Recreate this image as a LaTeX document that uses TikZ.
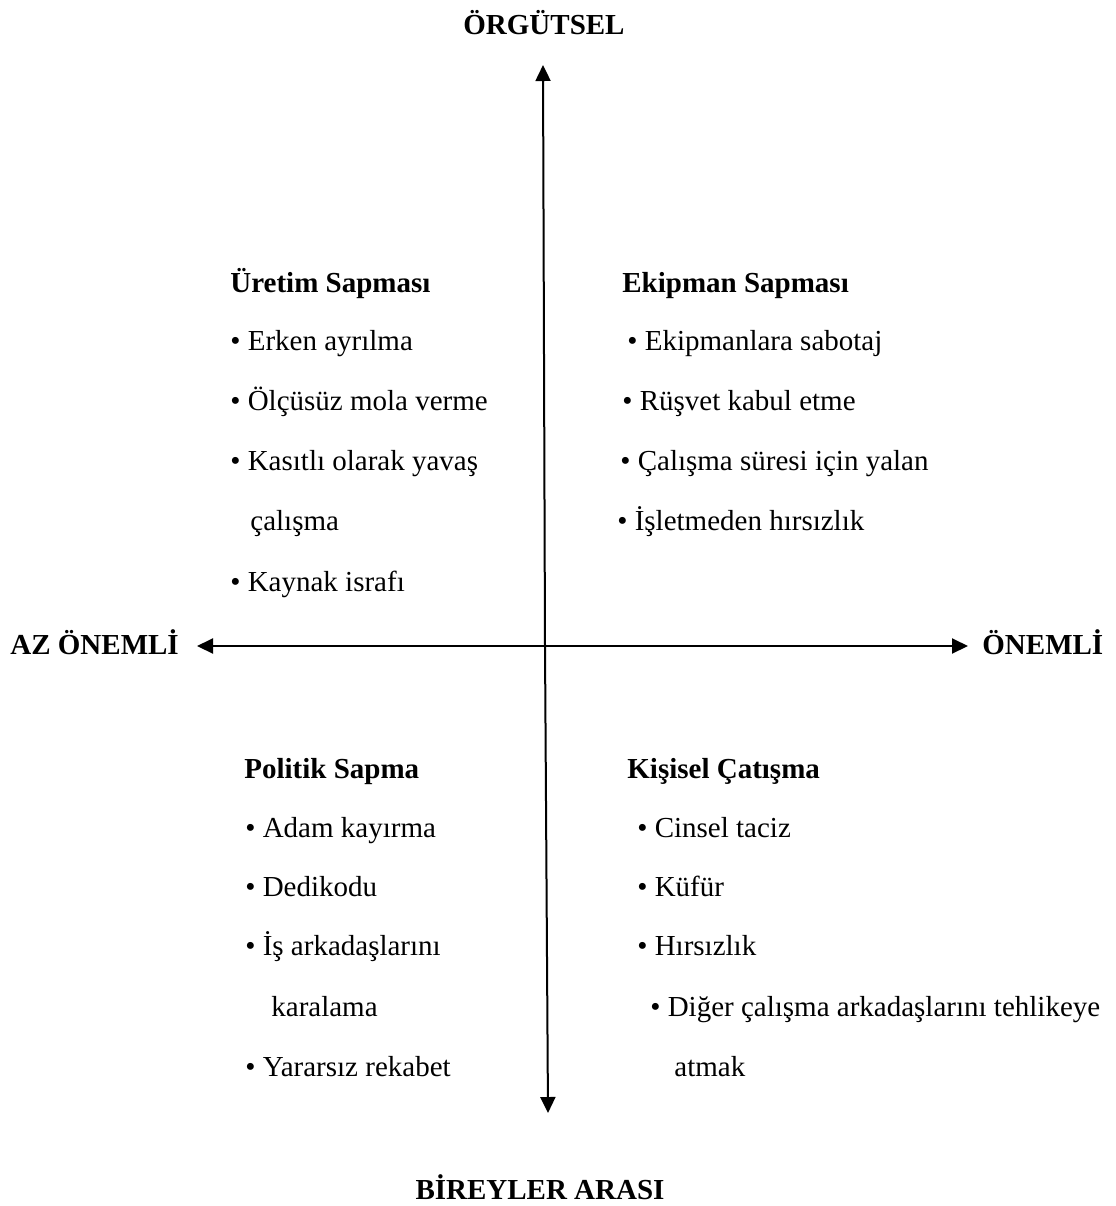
\documentclass[tikz,border=0pt]{standalone}
\usepackage{fontspec}
\setmainfont{Liberation Serif}
\usepackage{tikz}
\usetikzlibrary{arrows.meta}

\tikzset{
  axislabel/.style={font=\fontsize{14.5}{17}\selectfont\bfseries, inner sep=0pt},
  quadtitle/.style={font=\fontsize{14.5}{17}\selectfont\bfseries, anchor=base west, inner sep=0pt},
  quaditem/.style={font=\fontsize{14.5}{17}\selectfont, anchor=base west, inner sep=0pt},
  axis/.style={line width=1pt, -{Triangle[length=8pt, width=7.5pt]}}
}

\begin{document}
\begin{tikzpicture}[x=0.5pt, y=-0.5pt]
\useasboundingbox (0,0) rectangle (1115,1206);

% eksenler
\coordinate (orig) at (545,646);
\coordinate (up) at (543,65);
\coordinate (down) at (548,1113);
\coordinate (left) at (197,646);
\coordinate (right) at (968,646);
\draw[axis] (orig) -- (up);
\draw[axis] (orig) -- (down);
\draw[axis] (orig) -- (left);
\draw[axis] (orig) -- (right);

% eksen etiketleri
\node[axislabel, anchor=base] (orgutsel) at (544,34) {ÖRGÜTSEL};
\node[axislabel, anchor=base] (bireyler) at (540,1199) {BİREYLER ARASI};
\node[axislabel, anchor=base west] (azonemli) at (10,654) {AZ ÖNEMLİ};
\node[axislabel, anchor=base west] (onemli) at (982,654) {ÖNEMLİ};

% sol üst
\node[quadtitle] (uretim) at (230,292) {Üretim Sapması};
\node[quaditem] (u1) at (230,350) {• Erken ayrılma};
\node[quaditem] (u2) at (230,410) {• Ölçüsüz mola verme};
\node[quaditem] (u3) at (230,470) {• Kasıtlı olarak yavaş};
\node[quaditem] (u3b) at (250,530) {çalışma};
\node[quaditem] (u4) at (230,591) {• Kaynak israfı};

% sağ üst
\node[quadtitle] (ekipman) at (622,292) {Ekipman Sapması};
\node[quaditem] (e1) at (627,350) {• Ekipmanlara sabotaj};
\node[quaditem] (e2) at (622,410) {• Rüşvet kabul etme};
\node[quaditem] (e3) at (620,470) {• Çalışma süresi için yalan};
\node[quaditem] (e4) at (617,530) {• İşletmeden hırsızlık};

% sol alt
\node[quadtitle] (politik) at (244,778) {Politik Sapma};
\node[quaditem] (p1) at (245,837) {• Adam kayırma};
\node[quaditem] (p2) at (245,896) {• Dedikodu};
\node[quaditem] (p3) at (245,955) {• İş arkadaşlarını};
\node[quaditem] (p3b) at (271,1016) {karalama};
\node[quaditem] (p4) at (245,1076) {• Yararsız rekabet};

% sağ alt
\node[quadtitle] (kisisel) at (627,778) {Kişisel Çatışma};
\node[quaditem] (k1) at (637,837) {• Cinsel taciz};
\node[quaditem] (k2) at (637,896) {• Küfür};
\node[quaditem] (k3) at (637,955) {• Hırsızlık};
\node[quaditem] (k4) at (650,1016) {• Diğer çalışma arkadaşlarını tehlikeye};
\node[quaditem] (k4b) at (674,1076) {atmak};
\end{tikzpicture}
\end{document}
